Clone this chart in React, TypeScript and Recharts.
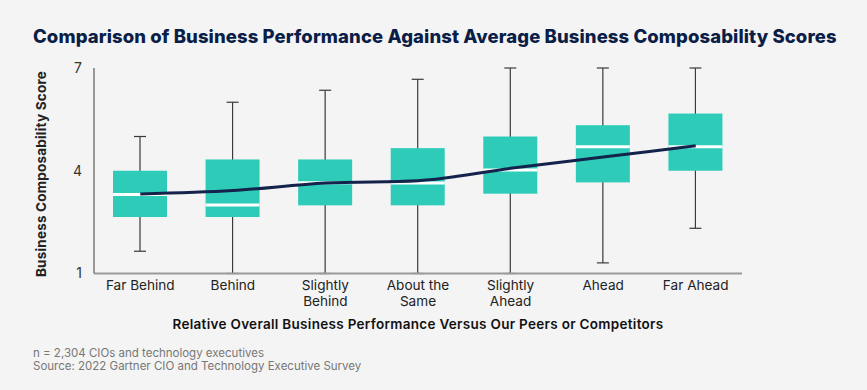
import { ComposedChart, Bar, Line, XAxis, YAxis } from "recharts";

const categories = [
  "Far Behind",
  "Behind",
  "Slightly\nBehind",
  "About the\nSame",
  "Slightly\nAhead",
  "Ahead",
  "Far Ahead",
];
const whiskerLow = [1.65, 1, 1, 1, 1, 1.31, 2.32];
const boxLow = [2.65, 2.65, 2.99, 2.99, 3.33, 3.66, 4.0];
const medians = [3.31, 3.0, 3.65, 3.64, 4.02, 4.7, 4.7];
const boxHigh = [4.0, 4.33, 4.33, 4.66, 5.0, 5.33, 5.67];
const whiskerHigh = [5.0, 6.0, 6.35, 6.67, 7, 7, 7];
const means = [3.32, 3.42, 3.64, 3.71, 4.07, 4.4, 4.73];
const yTicks = [1, 4, 7];

const TEAL = "#2ecbb9";
const NAVY = "#14234b";

const data = categories.map((name, i) => ({
  name,
  range: [whiskerLow[i], whiskerHigh[i]],
  q1: boxLow[i],
  median: medians[i],
  q3: boxHigh[i],
  mean: means[i],
}));

// box + whiskers drawn inside the range bar, values mapped through the bar's own pixels
// eslint-disable-next-line @typescript-eslint/no-explicit-any
function BoxShape(props: any) {
  const { x, y, width, height, payload } = props;
  const [lo, hi] = payload.range;
  const top = Math.min(y, y + height);
  const bottom = Math.max(y, y + height);
  const toY = (v: number) => bottom - ((v - lo) / (hi - lo)) * (bottom - top);
  const cx = x + width / 2;
  const boxTop = toY(payload.q3);
  const boxBottom = toY(payload.q1);
  const med = toY(payload.median);
  return (
    <g>
      <line x1={cx} x2={cx} y1={toY(hi)} y2={toY(lo)} stroke="#3a3a3a" strokeWidth={1.2} />
      <line x1={cx - 6} x2={cx + 6} y1={toY(hi)} y2={toY(hi)} stroke="#3a3a3a" strokeWidth={1.2} />
      <line x1={cx - 6} x2={cx + 6} y1={toY(lo)} y2={toY(lo)} stroke="#3a3a3a" strokeWidth={1.2} />
      <rect x={x} y={boxTop} width={width} height={boxBottom - boxTop} fill={TEAL} />
      <line x1={x} x2={x + width} y1={med} y2={med} stroke="#ffffff" strokeWidth={3} />
    </g>
  );
}

// eslint-disable-next-line @typescript-eslint/no-explicit-any
function CategoryTick({ x, y, payload }: any) {
  const lines = String(payload.value).split("\n");
  return (
    <text x={x} y={y} textAnchor="middle" fill="#222" fontSize={13.6}>
      {lines.map((l, i) => (
        <tspan key={i} x={x} dy={i === 0 ? 16.5 : 16}>
          {l}
        </tspan>
      ))}
    </text>
  );
}

export default function App() {
  return (
    <div
      style={{
        position: "absolute",
        left: 0,
        top: 0,
        width: 867,
        height: 390,
        background: "#f4f4f4",
        overflow: "hidden",
        fontFamily: "Inter, sans-serif",
      }}
    >
      <div
        style={{
          position: "absolute",
          left: 33,
          top: 27,
          fontSize: 18.5,
          lineHeight: "18px",
          fontWeight: 800,
          color: "#0b1e47",
          letterSpacing: 0.1,
          whiteSpace: "nowrap",
        }}
      >
        Comparison of Business Performance Against Average Business Composability Scores
      </div>

      <ComposedChart
        width={867}
        height={390}
        data={data}
        margin={{ top: 68, right: 125, left: 34, bottom: 76.5 }}
        style={{ position: "absolute", left: 0, top: 0 }}
      >
        <XAxis
          dataKey="name"
          height={40}
          tickLine={false}
          tickSize={0}
          tickMargin={0}
          interval={0}
          axisLine={{ stroke: "#9a9a9a", strokeWidth: 2 }}
          tick={<CategoryTick />}
        />
        <YAxis
          type="number"
          domain={[1, 7]}
          ticks={yTicks}
          width={60}
          tickLine={false}
          tickSize={0}
          tickMargin={12}
          axisLine={{ stroke: "#7a7a7a", strokeWidth: 1.5 }}
          tick={{ fontSize: 14, fill: "#333" }}
        />
        <Bar dataKey="range" barSize={54} shape={<BoxShape />} isAnimationActive={false} />
        <Line
          type="monotone"
          dataKey="mean"
          stroke={NAVY}
          strokeWidth={3}
          dot={false}
          activeDot={false}
          isAnimationActive={false}
        />
      </ComposedChart>

      <div
        style={{
          position: "absolute",
          left: -89,
          top: 166,
          width: 260,
          height: 16,
          lineHeight: "16px",
          fontSize: 13.5,
          fontWeight: 700,
          color: "#222",
          textAlign: "center",
          letterSpacing: 0.2,
          transform: "rotate(-90deg)",
          whiteSpace: "nowrap",
        }}
      >
        Business Composability Score
      </div>

      <div
        style={{
          position: "absolute",
          left: 94,
          width: 648,
          top: 317,
          fontSize: 13.5,
          lineHeight: "14px",
          fontWeight: 600,
          color: "#111",
          textAlign: "center",
          letterSpacing: 0.3,
          whiteSpace: "nowrap",
        }}
      >
        Relative Overall Business Performance Versus Our Peers or Competitors
      </div>

      <div
        style={{
          position: "absolute",
          left: 33,
          top: 347,
          fontSize: 11.5,
          lineHeight: "12.5px",
          color: "#777",
          whiteSpace: "nowrap",
        }}
      >
        <div>n = 2,304 CIOs and technology executives</div>
        <div>Source: 2022 Gartner CIO and Technology Executive Survey</div>
      </div>
    </div>
  );
}
